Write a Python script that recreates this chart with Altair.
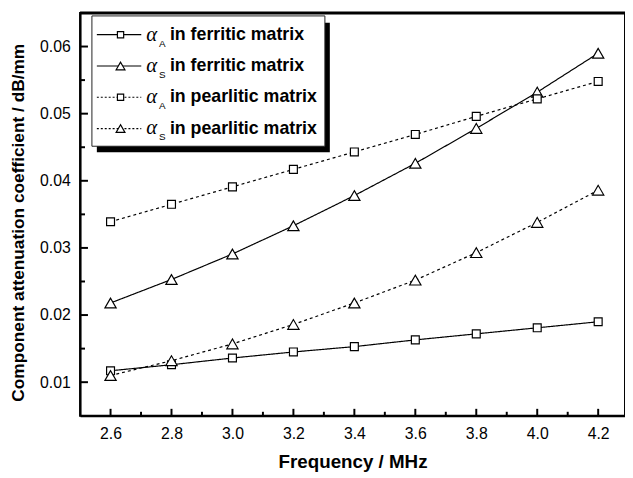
import altair as alt
import pandas as pd

# ---- data ----
freq = [2.6, 2.8, 3.0, 3.2, 3.4, 3.6, 3.8, 4.0, 4.2]
a_ferritic = [0.0117, 0.0126, 0.0136, 0.0145, 0.0153, 0.0163, 0.0172, 0.0181, 0.0190]
s_ferritic = [0.0218, 0.0253, 0.0291, 0.0333, 0.0378, 0.0426, 0.0478, 0.0532, 0.0590]
a_pearlitic = [0.0339, 0.0365, 0.0391, 0.0417, 0.0443, 0.0469, 0.0496, 0.0522, 0.0548]
s_pearlitic = [0.0110, 0.0132, 0.0157, 0.0186, 0.0218, 0.0252, 0.0293, 0.0338, 0.0386]

series_coef = ["A", "S", "A", "S"]
series_matrix = ["ferritic", "ferritic", "pearlitic", "pearlitic"]
series_values = [a_ferritic, s_ferritic, a_pearlitic, s_pearlitic]
legend_texts = ["in ferritic matrix", "in ferritic matrix",
                "in pearlitic matrix", "in pearlitic matrix"]

x_ticks_major = [2.6, 2.8, 3.0, 3.2, 3.4, 3.6, 3.8, 4.0, 4.2]
x_ticks_minor = [2.7, 2.9, 3.1, 3.3, 3.5, 3.7, 3.9, 4.1]
y_ticks_major = [0.01, 0.02, 0.03, 0.04, 0.05, 0.06]
y_ticks_minor = [0.015, 0.025, 0.035, 0.045, 0.055]

rows = []
for coef, mat, vals in zip(series_coef, series_matrix, series_values):
    for f, v in zip(freq, vals):
        rows.append({"freq": f, "value": v, "coef": coef, "matrix": mat,
                     "series": coef + "_" + mat})
df = pd.DataFrame(rows)

W, H = 552, 408
xscale = alt.Scale(domain=[2.5, 4.288], nice=False, zero=False)
yscale = alt.Scale(domain=[0.005, 0.065], nice=False, zero=False)

FONT = "Liberation Sans"
X_TITLE = "Frequency / MHz"
Y_TITLE = "Component attenuation coefficient / dB/mm"

x_axis = alt.Axis(values=x_ticks_major, format=".1f", ticks=False, tickSize=0,
                  labelPadding=10, titlePadding=11, grid=False, titleFontSize=19)
y_axis = alt.Axis(values=y_ticks_major, format=".2f", ticks=False, tickSize=0,
                  labelPadding=10, titlePadding=12, grid=False, titleY=212,
                  titleFontSize=17.5)

def X(field):
    return alt.X(field, scale=xscale, axis=x_axis, title=X_TITLE)

def Y(field):
    return alt.Y(field, scale=yscale, axis=y_axis, title=Y_TITLE)

dash_scale = alt.Scale(domain=["ferritic", "pearlitic"], range=[[1, 0], [3, 3]])
shape_scale = alt.Scale(domain=["A", "S"], range=["square", "triangle-up"])
size_scale = alt.Scale(domain=["A", "S"], range=[64, 130])

lines = alt.Chart(df).mark_line(color="black", strokeWidth=1.2).encode(
    x=X("freq:Q"), y=Y("value:Q"), detail="series:N",
    strokeDash=alt.StrokeDash("matrix:N", scale=dash_scale, legend=None),
)
points = alt.Chart(df).mark_point(fill="white", fillOpacity=1, stroke="black",
                                  strokeWidth=1.2, opacity=1).encode(
    x=X("freq:Q"), y=Y("value:Q"),
    shape=alt.Shape("coef:N", scale=shape_scale, legend=None),
    size=alt.Size("coef:N", scale=size_scale, legend=None),
)

# inward ticks
def tick_layer(vals, axis, length):
    d = alt.Data(values=[{"t": v} for v in vals])
    if axis == "x":
        enc = dict(x=X("t:Q"), y=alt.value(H), y2=alt.value(H - length))
    else:
        enc = dict(y=Y("t:Q"), x=alt.value(0), x2=alt.value(length))
    return alt.Chart(d).mark_rule(color="black", strokeWidth=2).encode(**enc)

ticks = [tick_layer(x_ticks_major, "x", 7), tick_layer(x_ticks_minor, "x", 4),
         tick_layer(y_ticks_major, "y", 8), tick_layer(y_ticks_minor, "y", 5)]

one = alt.Data(values=[{"k": 1}])
top_border = alt.Chart(one).mark_rule(color="black", strokeWidth=3).encode(
    x=alt.value(0), x2=alt.value(W), y=alt.value(0))

# legend drawn by hand
shadow = alt.Chart(one).mark_rect(color="black").encode(
    x=alt.value(17), x2=alt.value(253), y=alt.value(10), y2=alt.value(141))
box = alt.Chart(one).mark_rect(fill="white", stroke="#222", strokeWidth=1).encode(
    x=alt.value(12), x2=alt.value(248), y=alt.value(3), y2=alt.value(135))
legend_layers = [shadow, box]
for i, (coef, mat, txt) in enumerate(zip(series_coef, series_matrix, legend_texts)):
    yy = 22 + i * 31.7
    dash = [1, 0] if mat == "ferritic" else [2, 2]
    legend_layers.append(alt.Chart(one).mark_rule(color="black", strokeWidth=1.2,
                                                  strokeDash=dash).encode(
        x=alt.value(17), x2=alt.value(62), y=alt.value(yy)))
    legend_layers.append(alt.Chart(one).mark_point(
        fill="white", fillOpacity=1, stroke="black", strokeWidth=1.2, opacity=1,
        shape="square" if coef == "A" else "triangle-up",
        size=40 if coef == "A" else 80).encode(x=alt.value(41), y=alt.value(yy)))
    legend_layers.append(alt.Chart(one).mark_text(
        text="α", font="Liberation Serif", fontStyle="italic", fontSize=21,
        align="left", baseline="middle", color="black").encode(
        x=alt.value(67), y=alt.value(yy)))
    legend_layers.append(alt.Chart(one).mark_text(
        text=coef, font=FONT, fontSize=10, align="left", baseline="middle",
        color="black").encode(x=alt.value(80), y=alt.value(yy + 9)))
    legend_layers.append(alt.Chart(one).mark_text(
        text=txt, font=FONT, fontSize=18, fontWeight="bold", align="left",
        baseline="middle", color="black").encode(x=alt.value(91), y=alt.value(yy)))

chart = alt.layer(lines, points, *ticks, top_border, *legend_layers).properties(
    width=W, height=H,
    autosize=alt.AutoSizeParams(type="none"),
    padding={"left": 73, "top": 2, "right": 0, "bottom": 58},
).configure_view(stroke="black", strokeWidth=2).configure_axis(
    domainColor="black", domainWidth=2,
    labelFont=FONT, labelFontSize=16, labelColor="black",
    titleFont=FONT, titleFontSize=18, titleFontWeight="bold", titleColor="black",
)

chart.save("out.html", embed_options={"renderer": "svg", "actions": False})
